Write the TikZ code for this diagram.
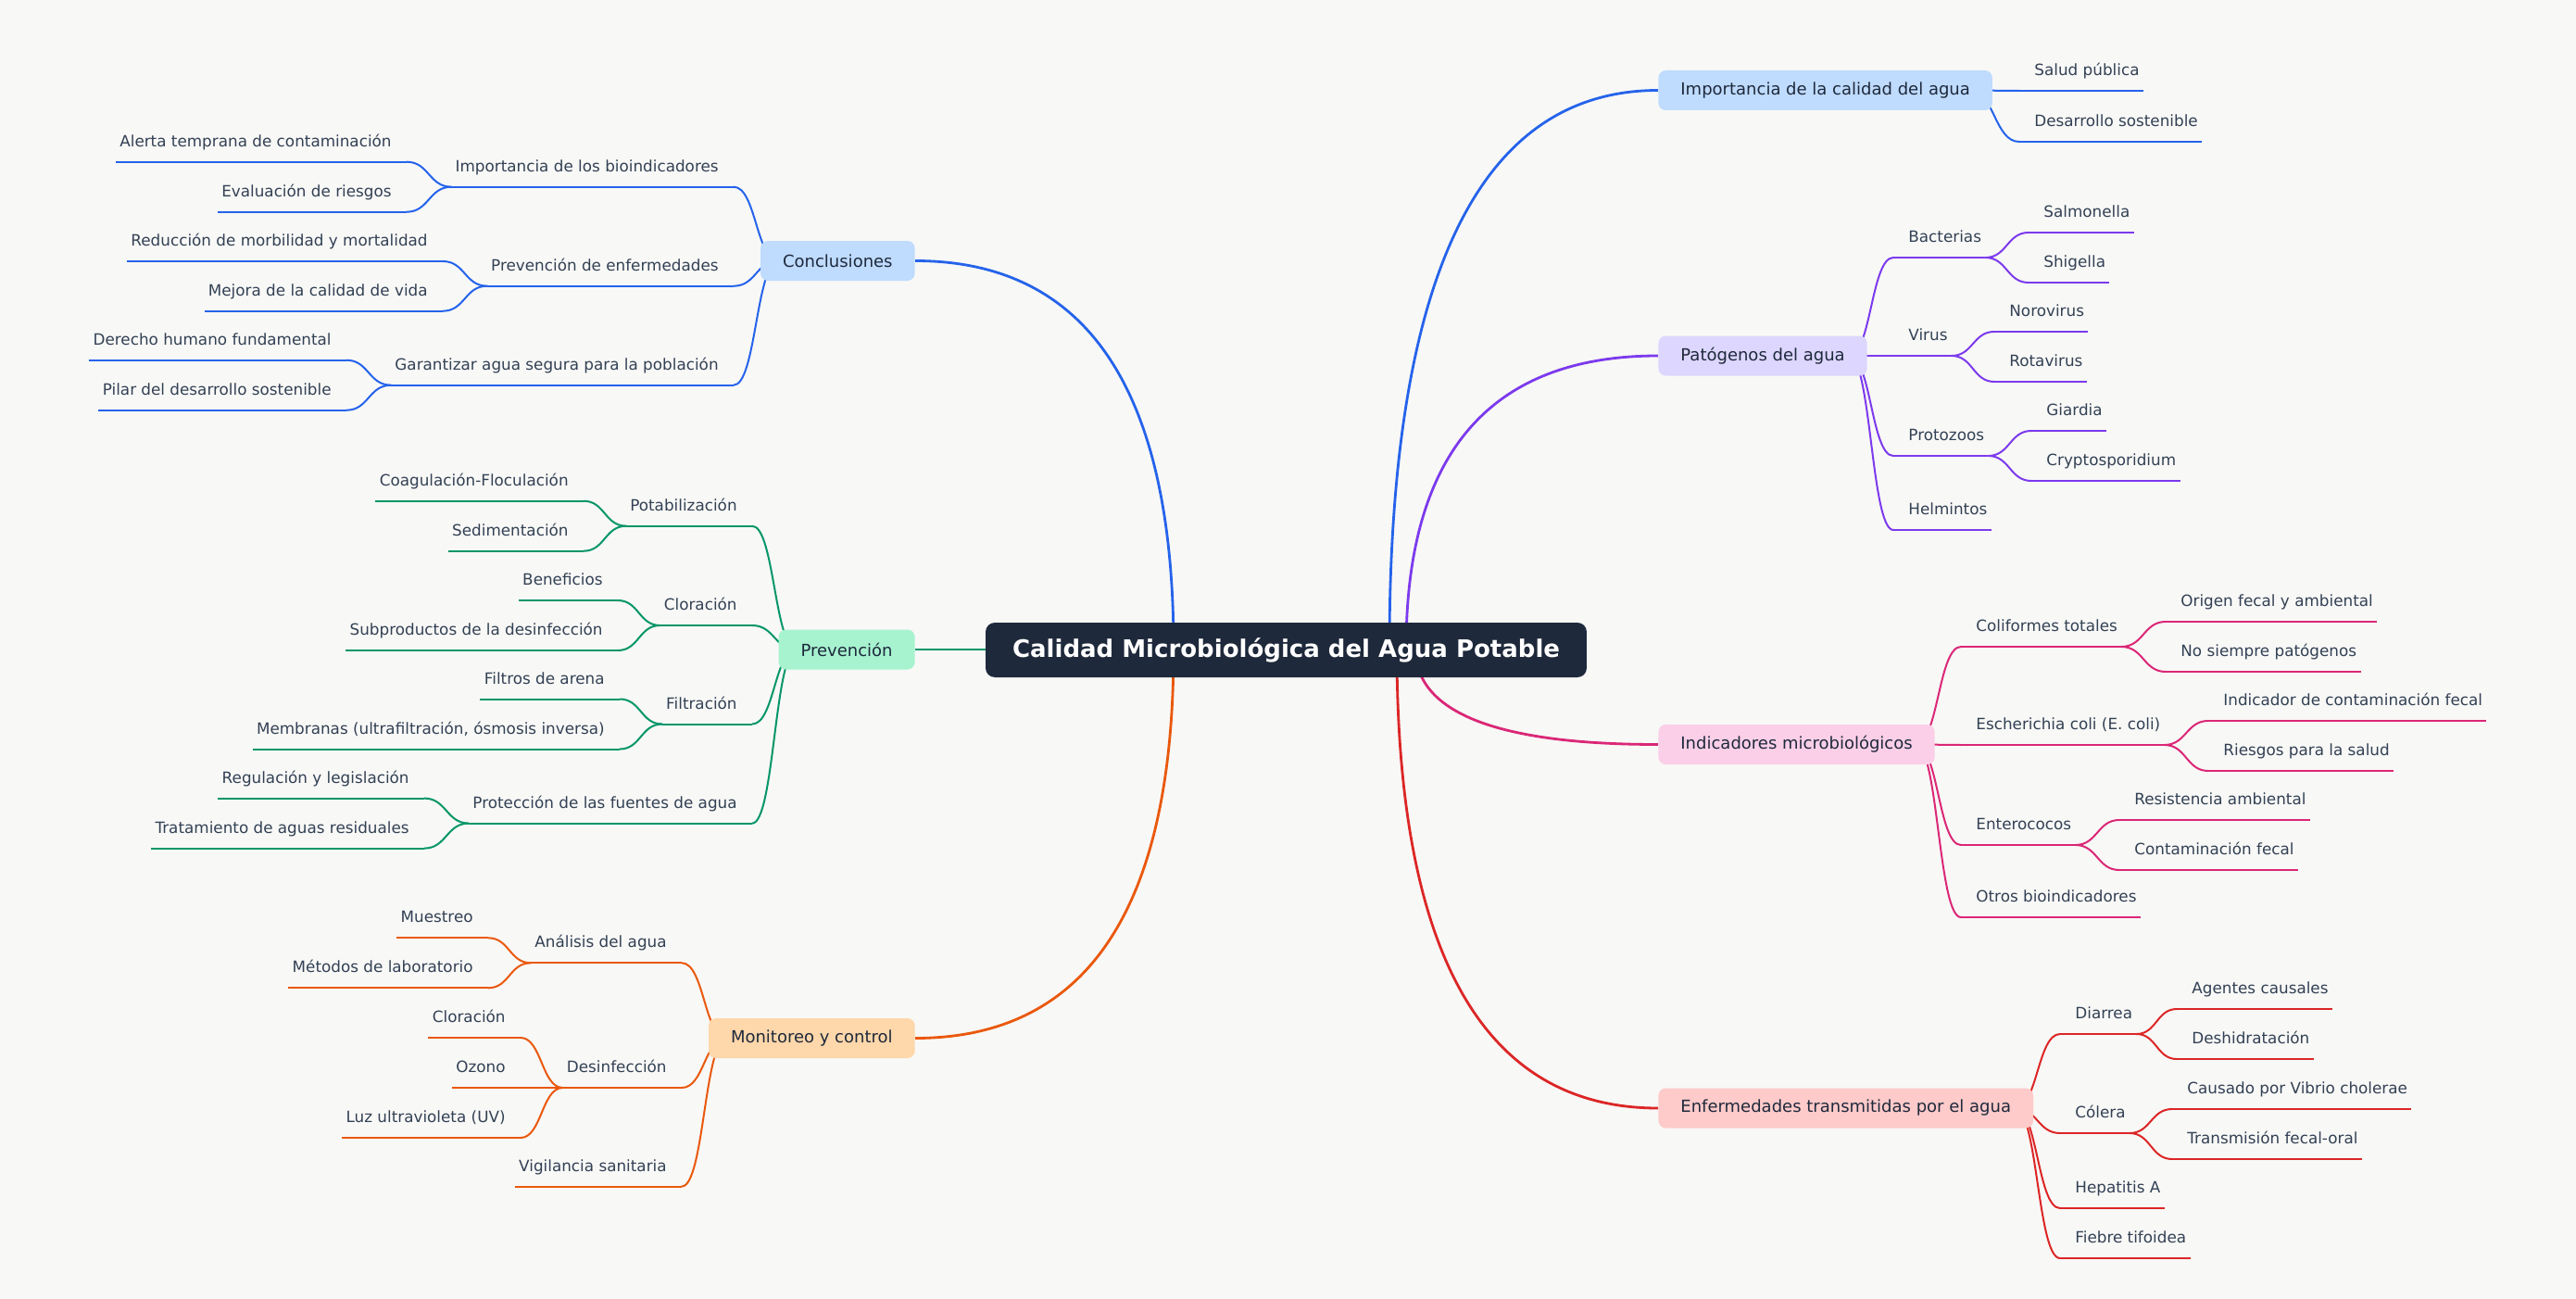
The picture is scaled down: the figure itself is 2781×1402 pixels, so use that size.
\documentclass[tikz,border=0pt]{standalone}
\usepackage{fontspec}
\setmainfont{DejaVu Sans}
\usetikzlibrary{calc}

\definecolor{fondo}{HTML}{F8F8F6}
\definecolor{azul}{HTML}{2563EB}
\definecolor{azulc}{HTML}{BFDBFE}
\definecolor{morado}{HTML}{7C3AED}
\definecolor{moradoc}{HTML}{DDD6FE}
\definecolor{rosa}{HTML}{DB2777}
\definecolor{rosac}{HTML}{FBCFE8}
\definecolor{rojo}{HTML}{DC2626}
\definecolor{rojoc}{HTML}{FECACA}
\definecolor{verde}{HTML}{059669}
\definecolor{verdec}{HTML}{A7F3D0}
\definecolor{naranja}{HTML}{EA580C}
\definecolor{naranjac}{HTML}{FED7AA}
\definecolor{oscuro}{HTML}{1E293B}
\definecolor{texto}{HTML}{334155}

\pgfdeclarelayer{capafondo}
\pgfdeclarelayer{lineas}
\pgfsetlayers{capafondo,lineas,main}

\begin{document}
\begin{tikzpicture}[
    x=0.5pt, y=-0.5pt,
    raiz/.style={rectangle, rounded corners=5pt, fill=oscuro, text=white,
                 font=\bfseries\fontsize{13}{15}\selectfont,
                 inner xsep=14.5pt, minimum height=29.5pt},
    rama/.style={rectangle, rounded corners=4pt, text=oscuro,
                 font=\fontsize{9}{11}\selectfont,
                 inner xsep=12pt, minimum height=21.5pt},
    hoja/.style={inner xsep=2pt, inner ysep=8pt, text depth=0pt, text=texto,
                 font=\fontsize{8.4}{10}\selectfont},
    hojad/.style={hoja, anchor=south west, execute at begin node={\hspace*{6pt}}},
    hojai/.style={hoja, anchor=south east, execute at end node={\hspace*{6pt}}},
    tronco/.style={line width=1.4pt, to path={let \p1=(\tikztostart), \p2=(\tikztotarget) in
        .. controls (\x1,{(\y1)+2/3*((\y2)-(\y1))}) and ({(\x2)+2/3*((\x1)-(\x2))},\y2) .. (\tikztotarget)}},
    enlace/.style={line width=1pt, to path={let \p1=(\tikztostart), \p2=(\tikztotarget) in
        .. controls ({((\x1)+(\x2))/2},\y1) and ({((\x1)+(\x2))/2},\y2) .. (\tikztotarget)}},
    subr/.style={line width=1pt}
]

\begin{pgfonlayer}{capafondo}
\fill[fondo] (0,0) rectangle (2781,1402);
\end{pgfonlayer}
\useasboundingbox (0,0) rectangle (2781,1402);

% Raiz
\node[raiz] (raiz) at (1388.5,701.5) {Calidad Microbiológica del Agua Potable};

% Ramas
\node[rama, fill=azulc, anchor=west] (imp) at (1790,97.5) {Importancia de la calidad del agua};
\node[rama, fill=moradoc, anchor=west] (pat) at (1790,384) {Patógenos del agua};
\node[rama, fill=rosac, anchor=west] (ind) at (1790,803.5) {Indicadores microbiológicos};
\node[rama, fill=rojoc, anchor=west] (enf) at (1790,1196) {Enfermedades transmitidas por el agua};
\node[rama, fill=azulc, anchor=east] (con) at (988,281.5) {Conclusiones};
\node[rama, fill=verdec, anchor=east] (pre) at (988,701) {Prevención};
\node[rama, fill=naranjac, anchor=east] (mon) at (988,1120.5) {Monitoreo y control};

% Salidas
\coordinate (timp) at (1500,700);
\coordinate (tpat) at (1518,700);
\coordinate (tind) at (1528,700);
\coordinate (tenf) at (1508,700);
\coordinate (tcon) at (1267,700);
\coordinate (tmon) at (1267,700);
\coordinate (simp) at ($(imp.east)+(-25,0)$);
\coordinate (spat) at ($(pat.east)+(-20,0)$);
\coordinate (sind) at ($(ind.east)+(-21,0)$);
\coordinate (senf) at ($(enf.east)+(-20,0)$);
\coordinate (scon) at ($(con.west)+(20,0)$);
\coordinate (spre) at ($(pre.west)+(20,0)$);
\coordinate (smon) at ($(mon.west)+(20,0)$);

% Importancia de la calidad del agua
\node[hojad] (salud) at (2180,98) {Salud pública};
\node[hojad] (desa) at (2180,153) {Desarrollo sostenible};

% Patogenos
\node[hojad] (bact) at (2044,278) {Bacterias};
\node[hojad] (viru) at (2044,384) {Virus};
\node[hojad] (prot) at (2044,492) {Protozoos};
\node[hojad] (helm) at (2044,572) {Helmintos};
\node[hojad] (salm) at (2190,251) {Salmonella};
\node[hojad] (shig) at (2190,305) {Shigella};
\node[hojad] (noro) at (2153,358) {Norovirus};
\node[hojad] (rota) at (2153,412) {Rotavirus};
\node[hojad] (giar) at (2193,465) {Giardia};
\node[hojad] (cryp) at (2193,519) {Cryptosporidium};

% Indicadores
\node[hojad] (coli) at (2117,698) {Coliformes totales};
\node[hojad] (ecol) at (2117,804) {Escherichia coli (E. coli)};
\node[hojad] (ente) at (2117,912) {Enterococos};
\node[hojad] (otro) at (2117,990) {Otros bioindicadores};
\node[hojad] (orig) at (2338,671) {Origen fecal y ambiental};
\node[hojad] (nosi) at (2338,725) {No siempre patógenos};
\node[hojad] (indc) at (2384,778) {Indicador de contaminación fecal};
\node[hojad] (ries) at (2384,832) {Riesgos para la salud};
\node[hojad] (resi) at (2288,885) {Resistencia ambiental};
\node[hojad] (cfec) at (2288,939) {Contaminación fecal};

% Enfermedades
\node[hojad] (diar) at (2224,1116) {Diarrea};
\node[hojad] (cole) at (2224,1223) {Cólera};
\node[hojad] (hepa) at (2224,1304) {Hepatitis A};
\node[hojad] (fieb) at (2224,1358) {Fiebre tifoidea};
\node[hojad] (agen) at (2350,1089) {Agentes causales};
\node[hojad] (desh) at (2350,1143) {Deshidratación};
\node[hojad] (vibr) at (2345,1197) {Causado por Vibrio cholerae};
\node[hojad] (tran) at (2345,1251) {Transmisión fecal-oral};

% Conclusiones
\node[hojai] (bioi) at (792,201.7) {Importancia de los bioindicadores};
\node[hojai] (penf) at (792,308.7) {Prevención de enfermedades};
\node[hojai] (gara) at (792,415.7) {Garantizar agua segura para la población};
\node[hojai] (aler) at (439,174.7) {Alerta temprana de contaminación};
\node[hojai] (eval) at (439,228.7) {Evaluación de riesgos};
\node[hojai] (redu) at (478,282) {Reducción de morbilidad y mortalidad};
\node[hojai] (mejo) at (478,335.7) {Mejora de la calidad de vida};
\node[hojai] (dere) at (374,388.7) {Derecho humano fundamental};
\node[hojai] (pila) at (374,442.7) {Pilar del desarrollo sostenible};

% Prevencion
\node[hojai] (pota) at (812,567.7) {Potabilización};
\node[hojai] (clor) at (812,675) {Cloración};
\node[hojai] (filt) at (812,781.5) {Filtración};
\node[hojai] (pfue) at (812,888.6) {Protección de las fuentes de agua};
\node[hojai] (coag) at (630,540.7) {Coagulación-Floculación};
\node[hojai] (sedi) at (630,594.7) {Sedimentación};
\node[hojai] (bene) at (667,648) {Beneficios};
\node[hojai] (subp) at (667,702) {Subproductos de la desinfección};
\node[hojai] (fare) at (669,754.5) {Filtros de arena};
\node[hojai] (memb) at (669,808.5) {Membranas (ultrafiltración, ósmosis inversa)};
\node[hojai] (regu) at (458,861.6) {Regulación y legislación};
\node[hojai] (trat) at (458,915.6) {Tratamiento de aguas residuales};

% Monitoreo
\node[hojai] (anal) at (736,1039.3) {Análisis del agua};
\node[hojai] (desi) at (736,1174) {Desinfección};
\node[hojai] (vigi) at (736,1280.5) {Vigilancia sanitaria};
\node[hojai] (mues) at (527,1012.3) {Muestreo};
\node[hojai] (meto) at (527,1066.3) {Métodos de laboratorio};
\node[hojai] (mclo) at (562,1120) {Cloración};
\node[hojai] (ozon) at (562,1174) {Ozono};
\node[hojai] (luzu) at (562,1228) {Luz ultravioleta (UV)};

\begin{pgfonlayer}{lineas}
% Troncos
\draw[tronco, azul] (timp) to (imp.west);
\draw[tronco, morado] (tpat) to (pat.west);
\draw[tronco, rosa] (tind) to (ind.west);
\draw[tronco, rojo] (tenf) to (enf.west);
\draw[tronco, azul] (tcon) to (con.east);
\draw[tronco, naranja] (tmon) to (mon.east);
\draw[line width=1.4pt, verde] (raiz.west |- pre.east) -- (pre.east);

% Enlaces derecha
\begin{scope}[azul]
\foreach \p/\h in {simp/salud, simp/desa}
  {\draw[enlace] (\p) to (\h.south west); \draw[subr] (\h.south west) -- (\h.south east);}
\end{scope}
\begin{scope}[morado]
\foreach \p/\h in {spat/bact, spat/viru, spat/prot, spat/helm, bact.south east/salm,
    bact.south east/shig, viru.south east/noro, viru.south east/rota,
    prot.south east/giar, prot.south east/cryp}
  {\draw[enlace] (\p) to (\h.south west); \draw[subr] (\h.south west) -- (\h.south east);}
\end{scope}
\begin{scope}[rosa]
\foreach \p/\h in {sind/coli, sind/ecol, sind/ente, sind/otro, coli.south east/orig,
    coli.south east/nosi, ecol.south east/indc, ecol.south east/ries,
    ente.south east/resi, ente.south east/cfec}
  {\draw[enlace] (\p) to (\h.south west); \draw[subr] (\h.south west) -- (\h.south east);}
\end{scope}
\begin{scope}[rojo]
\foreach \p/\h in {senf/diar, senf/cole, senf/hepa, senf/fieb, diar.south east/agen,
    diar.south east/desh, cole.south east/vibr, cole.south east/tran}
  {\draw[enlace] (\p) to (\h.south west); \draw[subr] (\h.south west) -- (\h.south east);}
\end{scope}

% Enlaces izquierda
\begin{scope}[azul]
\foreach \p/\h in {scon/bioi, scon/penf, scon/gara, bioi.south west/aler,
    bioi.south west/eval, penf.south west/redu, penf.south west/mejo,
    gara.south west/dere, gara.south west/pila}
  {\draw[enlace] (\p) to (\h.south east); \draw[subr] (\h.south west) -- (\h.south east);}
\end{scope}
\begin{scope}[verde]
\foreach \p/\h in {spre/pota, spre/clor, spre/filt, spre/pfue, pota.south west/coag,
    pota.south west/sedi, clor.south west/bene, clor.south west/subp,
    filt.south west/fare, filt.south west/memb, pfue.south west/regu,
    pfue.south west/trat}
  {\draw[enlace] (\p) to (\h.south east); \draw[subr] (\h.south west) -- (\h.south east);}
\end{scope}
\begin{scope}[naranja]
\foreach \p/\h in {smon/anal, smon/desi, smon/vigi, anal.south west/mues,
    anal.south west/meto, desi.south west/mclo, desi.south west/ozon,
    desi.south west/luzu}
  {\draw[enlace] (\p) to (\h.south east); \draw[subr] (\h.south west) -- (\h.south east);}
\end{scope}
\end{pgfonlayer}

\end{tikzpicture}
\end{document}
